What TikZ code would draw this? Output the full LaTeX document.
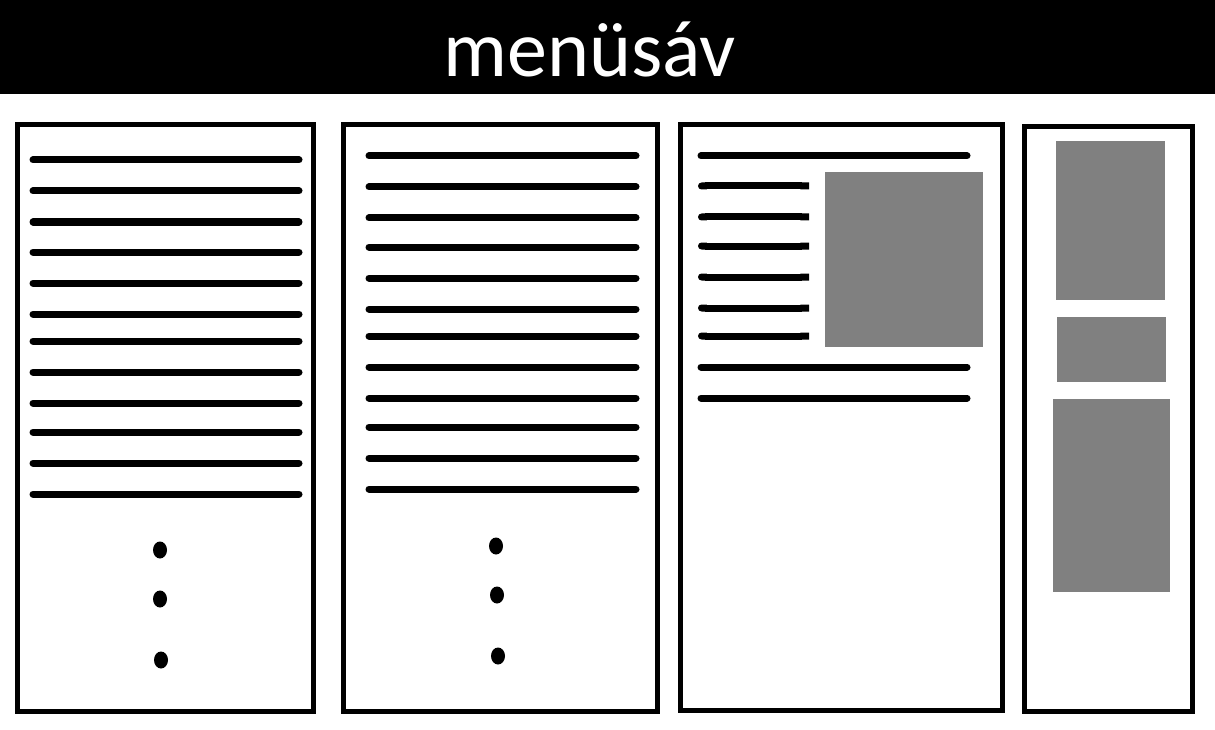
\documentclass[tikz,border=0pt]{standalone}
\usepackage{fontspec}
\setmainfont{Carlito}
\usetikzlibrary{arrows.meta}
\definecolor{boxgray}{RGB}{128,128,128}
\tikzset{
  panel/.style={draw=black, line width=5pt},
  textline/.style={line width=7pt, line cap=round},
  shortline/.style={line width=7pt, {Round Cap[]}-{Butt Cap[]}},
  picture/.style={fill=boxgray}
}

\begin{document}
\begin{tikzpicture}[x=1pt,y=-1pt]
\useasboundingbox (0,0) rectangle (1215,730);
\fill[white] (0,0) rectangle (1215,730);
% menu bar
\fill[black] (0,0) rectangle (1215,94);
\node[white, anchor=base, inner sep=0, font=\fontsize{80}{90}\selectfont] (menu) at (590,77) {menüsáv};
% panels
\draw[panel] (17,125) rectangle (313,711);
\draw[panel] (343,125) rectangle (657,711);
\draw[panel] (680,125) rectangle (1002,710);
\draw[panel] (1024,127) rectangle (1192,711);
% text lines, first two columns
\foreach \y in {160,191,222,252,283,314,341,372,403,432,463,494}
  \draw[textline] (33,\y) --++(266,0);
\foreach \y in {156,187,218,247,278,309,336,367,398,427,458,489}
  \draw[textline] (369,\y) --++(267,0);
% dots
\foreach \x/\y in {160/550, 160/599, 161/660, 496/546, 497/595, 498/656}
  \fill (\x,\y) ellipse (7 and 8.5);
% third column
\foreach \y in {156,367,398}
  \draw[textline] (701,\y) --++(266,0);
\foreach \y in {186,217,246,277,308,336}
  \draw[shortline] (698,\y) -- (809,\y);
\fill[picture] (825,172) rectangle (983,347);
% side column
\fill[picture] (1056,141) rectangle (1165,300);
\fill[picture] (1057,317) rectangle (1166,382);
\fill[picture] (1053,399) rectangle (1170,592);
\end{tikzpicture}
\end{document}
